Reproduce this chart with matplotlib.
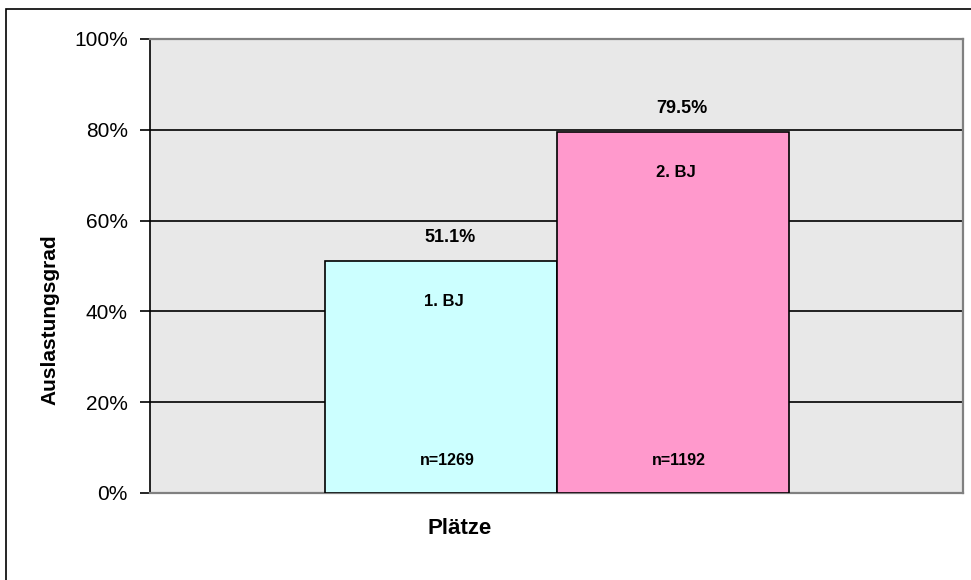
import matplotlib
matplotlib.use("Agg")
import matplotlib.pyplot as plt
from matplotlib.patches import Rectangle
from matplotlib.ticker import FuncFormatter

plt.rcParams['font.family'] = ['Liberation Sans', 'DejaVu Sans']

categories = ["1. BJ", "2. BJ"]
values = [51.1, 79.5]
counts = [1269, 1192]
colors = ["#CCFFFF", "#FF99CC"]
yticks = [0, 20, 40, 60, 80, 100]
xlabel = "Plätze"
ylabel = "Auslastungsgrad"

W, H = 971, 580
fig = plt.figure(figsize=(W / 100, H / 100), dpi=100)

# outer chart border
fig.patches.append(Rectangle((6 / W, -0.1), 1.2, 1 - 9 / H + 0.1, transform=fig.transFigure,
                             fill=False, edgecolor="black", linewidth=1.2))

ax = fig.add_axes([150 / W, 1 - 493 / H, (963 - 150) / W, (493 - 39) / H])
ax.set_facecolor("#E8E8E8")
ax.set_xlim(0, 1)
ax.set_ylim(0, 100)

bw = 232 / 813
xs = [0.5 - bw / 2, 0.5 + bw / 2]
ax.bar(xs, values, width=bw, color=colors, edgecolor="black", linewidth=1.2, zorder=3)

for x, v, c, n in zip(xs, values, categories, counts):
    ax.text(x + 0.012, v + 5.2, f"{v:.1f}%", ha="center", va="center", fontsize=13,
            fontweight="bold", zorder=4)
    ax.text(x + 0.004, v - 9, c, ha="center", va="center", fontsize=12,
            fontweight="bold", zorder=4)
    ax.text(x + 0.008, 7.2, f"n={n}", ha="center", va="center", fontsize=11.5,
            fontweight="bold", zorder=4)

ax.set_yticks(yticks)
ax.yaxis.set_major_formatter(FuncFormatter(lambda v, p: f"{v:.0f}%"))
ax.tick_params(axis="y", labelsize=15, length=7, width=1.2, direction="out", pad=9)
ax.set_xticks([])
ax.grid(axis="y", color="black", linewidth=1.2, zorder=1)
ax.set_axisbelow(True)

for s in ["top", "right", "bottom"]:
    ax.spines[s].set_color("#808080")
    ax.spines[s].set_linewidth(1.6)
ax.spines["left"].set_color("black")
ax.spines["left"].set_linewidth(1.2)

fig.text(460 / W, 1 - 528 / H, xlabel, ha="center", va="center", fontsize=16, fontweight="bold")
fig.text(50 / W, 1 - 320 / H, ylabel, ha="center", va="center", rotation=90, fontsize=15,
         fontweight="bold")

fig.savefig("out.png", dpi=100)
